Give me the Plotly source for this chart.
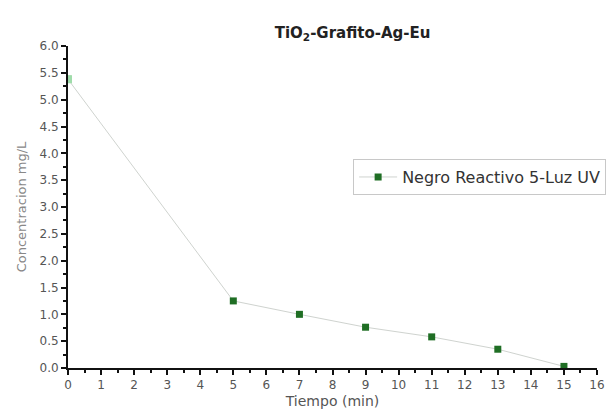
import plotly.graph_objects as go

tiempo = [0, 5, 7, 9, 11, 13, 15]
concentracion = [5.38, 1.25, 1.0, 0.76, 0.58, 0.35, 0.03]
serie = "Negro Reactivo 5-Luz UV"

FONT = "DejaVu Sans, Liberation Sans, Arial"

fig = go.Figure()
fig.add_trace(go.Scatter(
    x=tiempo, y=concentracion, mode="lines+markers",
    name=serie,
    line=dict(color="#cfd3cf", width=1),
    marker=dict(symbol="square", size=7, color="#1f6e24"),
))
# first point rendered lighter, as in the reference
fig.add_trace(go.Scatter(
    x=tiempo[:1], y=concentracion[:1], mode="markers", showlegend=False,
    marker=dict(symbol="square", size=8, color="#9fdcaa"),
))

axis_common = dict(
    showline=True, linecolor="#111", linewidth=2, mirror=False,
    ticks="outside", tickcolor="#111", tickwidth=2, ticklen=5,
    showgrid=False, zeroline=False,
    tickfont=dict(family=FONT, size=12, color="#555"),
)

fig.update_layout(
    width=608, height=418,
    paper_bgcolor="white", plot_bgcolor="white",
    margin=dict(l=68, r=11, t=46, b=50, autoexpand=False),
    title=dict(text="TiO<sub>2</sub>-Grafito-Ag-Eu", x=0.538, xanchor="center",
               xref="paper", y=0.921, yanchor="middle",
               font=dict(family=FONT, size=15, color="#222", weight="bold")),
    xaxis=dict(range=[0, 16], dtick=1, tick0=0,
               minor=dict(dtick=0.5, ticks="outside", ticklen=3, tickcolor="#111", tickwidth=1.5),
               title=dict(text="Tiempo (min)", standoff=5,
                          font=dict(family=FONT, size=14, color="#555")),
               **axis_common),
    yaxis=dict(range=[0, 6], dtick=0.5, tick0=0, tickformat=".1f",
               minor=dict(dtick=0.25, ticks="outside", ticklen=3, tickcolor="#111", tickwidth=1.5),
               title=dict(text="Concentracion mg/L", standoff=10,
                          font=dict(family=FONT, size=13, color="#888")),
               **axis_common),
    showlegend=True,
    legend=dict(x=0.539, y=0.593, xanchor="left", yanchor="middle",
                itemwidth=38,
                bordercolor="#c8c8c8", borderwidth=1, bgcolor="white",
                font=dict(family=FONT, size=16, color="#333")),
)

fig.write_html("out.html")
